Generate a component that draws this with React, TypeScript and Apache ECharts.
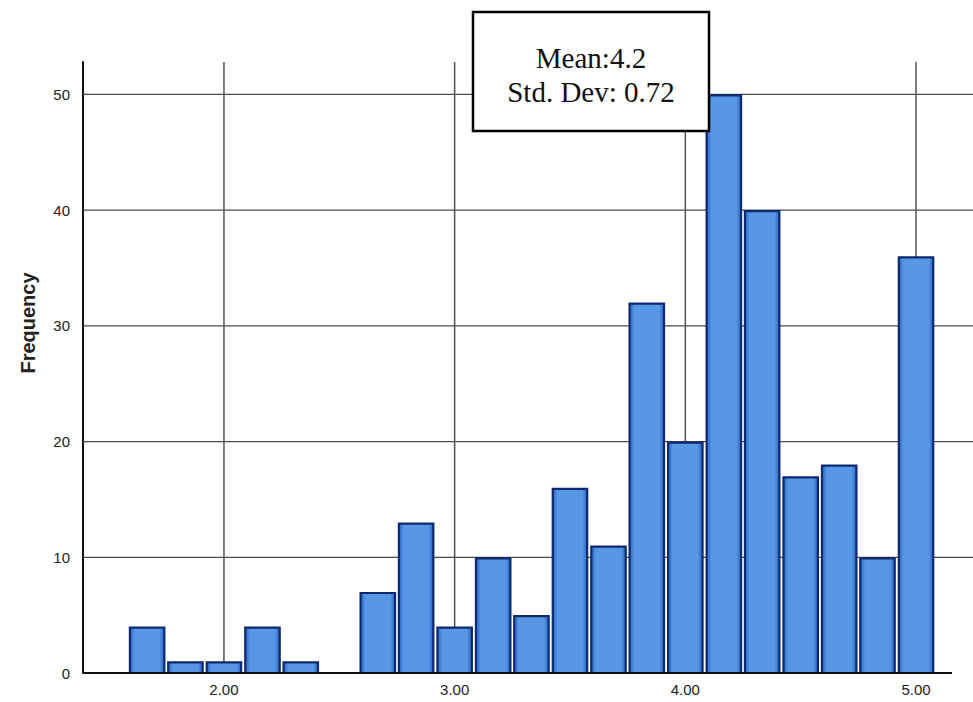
import React, { useEffect, useRef } from "react";
import * as echarts from "echarts";

const binCenters = [1.667, 1.833, 2.0, 2.167, 2.333, 2.5, 2.667, 2.833, 3.0, 3.167, 3.333, 3.5, 3.667, 3.833, 4.0, 4.167, 4.333, 4.5, 4.667, 4.833, 5.0];
const frequencies = [4, 1, 1, 4, 1, 0, 7, 13, 4, 10, 5, 16, 11, 32, 20, 50, 40, 17, 18, 10, 36];
const binWidth = 0.1667;
const xTickValues = [2, 3, 4, 5];
const yTickValues = [0, 10, 20, 30, 40, 50];
const yGridValues = [10, 20, 30, 40, 50];
const statsLines = ["Mean:4.2", "Std. Dev: 0.72"];

const X_MIN = 1.389;
const X_AXIS_END = 5.156;
const X_MAX = 5.247;
const Y_MAX = 52.8;

export default function App() {
  const ref = useRef<HTMLDivElement>(null);
  useEffect(() => {
    if (!ref.current) return;
    const chart = echarts.init(ref.current, null, { renderer: "svg" });
    const data = binCenters.map((c, i) => [c, frequencies[i]]);
    const fill = new echarts.graphic.LinearGradient(0, 0, 1, 0, [
      { offset: 0, color: "#2a62c4" },
      { offset: 0.14, color: "#5897e6" },
      { offset: 0.86, color: "#5897e6" },
      { offset: 1, color: "#2a62c4" },
    ]);
    const vlines = xTickValues.map((v) => ({
      type: "line",
      z: 1,
      silent: true,
      symbol: "none",
      lineStyle: { color: "#555", width: 1.5 },
      data: [[v, 0], [v, Y_MAX]],
    }));
    const hlines = yGridValues.map((v) => ({
      type: "line",
      z: 1,
      silent: true,
      symbol: "none",
      lineStyle: { color: "#4a4a4a", width: 1.2 },
      data: [[X_MIN, v], [X_MAX, v]],
    }));
    chart.setOption({
      animation: false,
      grid: { left: 83, right: 0, top: 62, bottom: 29 },
      xAxis: {
        type: "value",
        min: X_MIN,
        max: X_MAX,
        axisLine: { show: false },
        axisTick: { show: false },
        splitLine: { show: false },
        axisLabel: {
          customValues: xTickValues,
          formatter: (v: number) => v.toFixed(2),
          color: "#222",
          fontSize: 15,
          fontFamily: "Liberation Sans",
          margin: 9,
        },
      },
      yAxis: {
        type: "value",
        min: 0,
        max: Y_MAX,
        interval: 10,
        axisLine: { show: true, lineStyle: { color: "#111", width: 2 } },
        axisTick: { show: false },
        axisLabel: {
          customValues: yTickValues,
          color: "#222",
          fontSize: 15,
          fontFamily: "Liberation Sans",
          margin: 13,
        },
        splitLine: { show: false },
      },
      series: [
        ...hlines,
        ...vlines,
        {
          type: "line",
          z: 5,
          silent: true,
          symbol: "none",
          lineStyle: { color: "#111", width: 2 },
          data: [[X_MIN, 0], [X_AXIS_END, 0]],
        },
        {
          type: "custom",
          z: 3,
          encode: { x: 0, y: 1 },
          data,
          renderItem: (params: any, api: any) => {
            const c = api.value(0);
            const v = api.value(1);
            if (!v) return null;
            const p0 = api.coord([c - binWidth / 2, v]);
            const p1 = api.coord([c + binWidth / 2, 0]);
            return {
              type: "rect",
              shape: {
                x: p0[0] + 2,
                y: p0[1] + 1,
                width: p1[0] - p0[0] - 4,
                height: p1[1] - p0[1] - 1,
              },
              style: { fill, stroke: "#0d2a6e", lineWidth: 2.2 },
            };
          },
        },
      ],
      graphic: [
        {
          type: "text",
          x: 28,
          y: 323,
          rotation: Math.PI / 2,
          style: {
            text: "Frequency",
            font: "bold 20px 'Liberation Sans'",
            fill: "#222",
            align: "center",
            verticalAlign: "middle",
          },
        },
        {
          type: "rect",
          z: 100,
          shape: { x: 473, y: 12, width: 236, height: 119 },
          style: { fill: "#fff", stroke: "#000", lineWidth: 2.5 },
        },
        ...statsLines.map((t, i) => ({
          type: "text",
          z: 101,
          x: 591,
          y: 58 + i * 34,
          style: {
            text: t,
            font: "29px 'Liberation Serif'",
            fill: "#111",
            align: "center",
            verticalAlign: "middle",
          },
        })),
      ],
    });
    return () => chart.dispose();
  }, []);
  return (
    <div
      ref={ref}
      style={{ position: "fixed", left: 0, top: 0, width: 973, height: 702, background: "#fff" }}
    />
  );
}
